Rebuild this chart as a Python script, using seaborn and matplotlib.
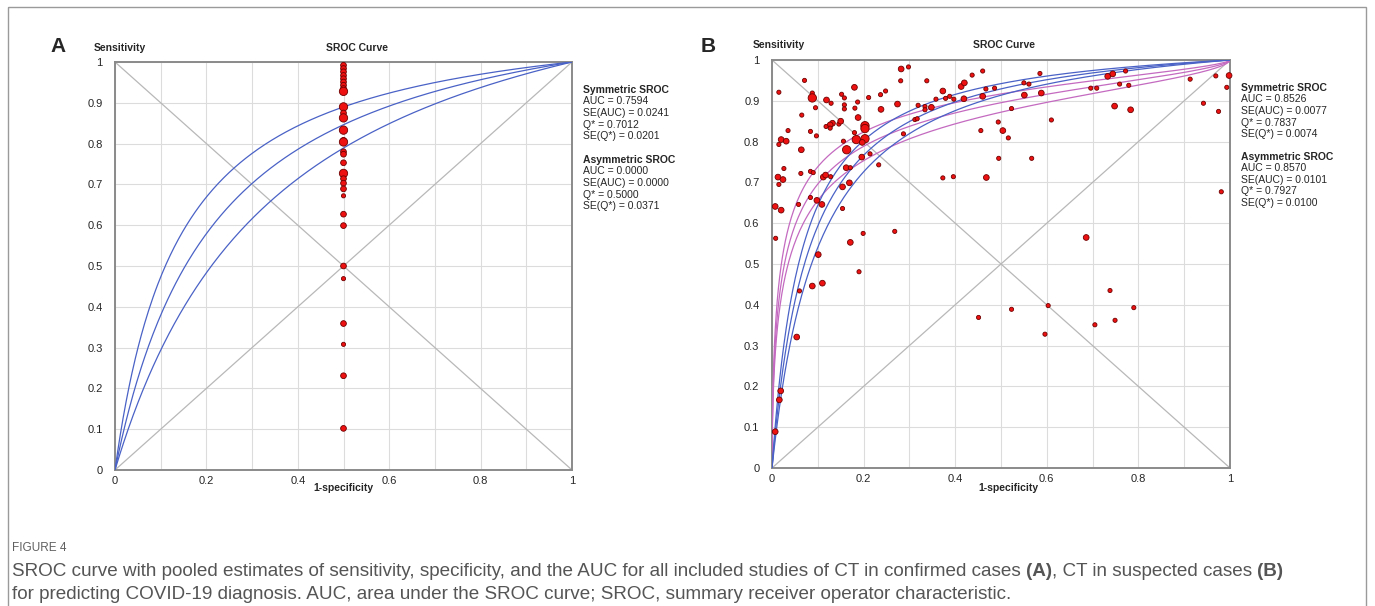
import numpy as np
import pandas as pd
import seaborn as sns
from matplotlib import pyplot as plt
from matplotlib.patches import Rectangle

# ---- panel A: CT in confirmed cases (every study sits at 1-specificity = 0.5)
a_sens = [0.992, 0.984, 0.976, 0.967, 0.959, 0.951, 0.943, 0.935, 0.928, 0.890,
          0.875, 0.863, 0.833, 0.808, 0.804, 0.780, 0.774, 0.753, 0.727, 0.714,
          0.703, 0.689, 0.672, 0.627, 0.599, 0.500, 0.469, 0.359, 0.308, 0.231,
          0.102]
a_fpr = [0.5] * len(a_sens)
a_size = [2, 2, 2, 2, 2, 2, 2, 2, 3, 3,
          2, 3, 3, 2, 3, 2, 2, 2, 3, 2,
          2, 2, 1, 2, 2, 2, 1, 2, 1, 2,
          2]

# ---- panel B: CT in suspected cases
b_fpr = [0.282, 0.298, 0.071, 0.281, 0.338, 0.015, 0.180, 0.088, 0.088, 0.119,
         0.129, 0.152, 0.158, 0.187, 0.158, 0.158, 0.181, 0.095, 0.065, 0.188,
         0.211, 0.237, 0.248, 0.274, 0.238, 0.203, 0.203, 0.132, 0.127, 0.118,
         0.127, 0.146, 0.150, 0.035, 0.084, 0.097, 0.180, 0.184, 0.203, 0.197,
         0.020, 0.031, 0.015, 0.156, 0.163, 0.064, 0.196, 0.214, 0.233, 0.162,
         0.171, 0.026, 0.013, 0.024, 0.015, 0.063, 0.084, 0.090, 0.112, 0.117,
         0.128, 0.169, 0.154, 0.084, 0.098, 0.109, 0.058, 0.007, 0.020, 0.154,
         0.008, 0.268, 0.199, 0.171, 0.101, 0.190, 0.088, 0.110, 0.060, 0.054,
         0.019, 0.016, 0.007,
         0.312, 0.317, 0.287, 0.319, 0.334, 0.334, 0.348, 0.358, 0.373, 0.379,
         0.388, 0.397, 0.413, 0.420, 0.419, 0.437, 0.460, 0.460, 0.467, 0.486,
         0.456, 0.494, 0.504, 0.516, 0.523, 0.495, 0.567, 0.373, 0.396, 0.468,
         0.550, 0.561, 0.551, 0.585, 0.588, 0.610, 0.696, 0.709, 0.733, 0.744,
         0.772, 0.759, 0.779, 0.748, 0.783, 0.913, 0.942, 0.969, 0.975, 0.993,
         0.998, 0.981, 0.686, 0.738, 0.790, 0.603, 0.523, 0.451, 0.705, 0.749,
         0.596]
b_sens = [0.978, 0.983, 0.950, 0.949, 0.949, 0.921, 0.933, 0.919, 0.907, 0.902,
          0.894, 0.916, 0.907, 0.897, 0.890, 0.880, 0.882, 0.883, 0.865, 0.859,
          0.908, 0.915, 0.924, 0.892, 0.879, 0.839, 0.832, 0.845, 0.841, 0.837,
          0.833, 0.843, 0.850, 0.827, 0.825, 0.814, 0.822, 0.805, 0.807, 0.798,
          0.805, 0.801, 0.793, 0.801, 0.780, 0.780, 0.762, 0.770, 0.743, 0.736,
          0.736, 0.734, 0.713, 0.707, 0.695, 0.722, 0.727, 0.724, 0.713, 0.718,
          0.714, 0.699, 0.689, 0.663, 0.656, 0.646, 0.646, 0.641, 0.632, 0.636,
          0.563, 0.580, 0.575, 0.553, 0.523, 0.481, 0.446, 0.453, 0.434, 0.321,
          0.189, 0.167, 0.089,
          0.854, 0.856, 0.819, 0.889, 0.886, 0.878, 0.884, 0.904, 0.924, 0.906,
          0.911, 0.904, 0.935, 0.944, 0.905, 0.963, 0.973, 0.911, 0.929, 0.931,
          0.827, 0.848, 0.827, 0.809, 0.881, 0.759, 0.759, 0.711, 0.714, 0.712,
          0.944, 0.941, 0.914, 0.967, 0.919, 0.853, 0.931, 0.931, 0.960, 0.966,
          0.973, 0.941, 0.938, 0.887, 0.878, 0.953, 0.894, 0.961, 0.874, 0.933,
          0.962, 0.677, 0.565, 0.435, 0.393, 0.398, 0.389, 0.369, 0.351, 0.362,
          0.328]
b_size = [2, 1, 1, 1, 1, 1, 2, 1, 3, 2,
          1, 1, 1, 1, 1, 1, 1, 1, 1, 2,
          1, 1, 1, 2, 2, 3, 3, 2, 2, 1,
          1, 1, 2, 1, 1, 1, 1, 3, 3, 2,
          2, 2, 1, 1, 3, 2, 2, 1, 1, 2,
          1, 1, 2, 2, 1, 1, 1, 1, 2, 2,
          1, 2, 2, 1, 2, 2, 1, 2, 2, 1,
          1, 1, 1, 2, 2, 1, 2, 2, 1, 2,
          2, 2, 2,
          1, 1, 1, 1, 1, 1, 2, 1, 2, 1,
          1, 1, 2, 2, 2, 1, 1, 2, 1, 1,
          1, 1, 2, 1, 1, 1, 1, 1, 1, 2,
          1, 1, 2, 1, 2, 1, 1, 1, 2, 2,
          1, 1, 1, 2, 2, 1, 1, 1, 1, 1,
          2, 1, 2, 1, 1, 1, 1, 1, 1, 1,
          1]

# SROC model: logit(sens) = intercept + slope * logit(1-spec), lower / fit / upper
a_sym_intercepts = [1.32, 1.706, 2.09]
b_sym_intercepts = [2.36, 2.575, 2.79]
b_asym_intercepts = [1.92, 2.147, 2.40]
b_asym_slopes = [0.58, 0.60, 0.62]

a_stats = [("Symmetric SROC", ["AUC = 0.7594", "SE(AUC) = 0.0241", "Q* = 0.7012", "SE(Q*) = 0.0201"]),
           ("Asymmetric SROC", ["AUC = 0.0000", "SE(AUC) = 0.0000", "Q* = 0.5000", "SE(Q*) = 0.0371"])]
b_stats = [("Symmetric SROC", ["AUC = 0.8526", "SE(AUC) = 0.0077", "Q* = 0.7837", "SE(Q*) = 0.0074"]),
           ("Asymmetric SROC", ["AUC = 0.8570", "SE(AUC) = 0.0101", "Q* = 0.7927", "SE(Q*) = 0.0100"])]

tick_vals = [round(v * 0.1, 1) for v in range(11)]

W, H = 1375, 606
FONT = ['Liberation Sans', 'DejaVu Sans']
BLUE = '#4a62c6'
MAGENTA = '#c46ac0'
SIZES = {1: 9, 2: 17, 3: 36}


def px(x, y):
    return x / W, 1 - y / H


def sroc(intercept, slope=1.0):
    x = np.concatenate([[0.0], np.logspace(-9, -1, 300), np.linspace(0.1, 0.9999999, 300), [1.0]])
    with np.errstate(divide='ignore'):
        lx = np.log(x / (1 - x))
    y = 1 / (1 + np.exp(-(intercept + slope * lx)))
    return pd.DataFrame({'x': x, 'y': y})


def style_axes(ax):
    ax.set_xlim(0, 1)
    ax.set_ylim(0, 1)
    ax.set_xticks(tick_vals)
    ax.set_yticks(tick_vals)
    ax.set_xticklabels([('%g' % v) if i % 2 == 0 else '' for i, v in enumerate(tick_vals)])
    ax.set_yticklabels(['%g' % v for v in tick_vals])
    ax.tick_params(length=0, labelsize=8, pad=4)
    ax.tick_params(axis='y', pad=9)
    ax.grid(True, color='#dcdcdc', lw=0.8)
    ax.set_axisbelow(True)
    for sp in ax.spines.values():
        sp.set_color('#8a8a8a')
        sp.set_linewidth(1.4)
    ax.plot([0, 1], [0, 1], color='#b8b8b8', lw=0.9, zorder=1)
    ax.plot([0, 1], [1, 0], color='#b8b8b8', lw=0.9, zorder=1)


sns.set_style('white')
plt.rcParams['font.family'] = FONT

fig = plt.figure(figsize=(W / 100, H / 100), dpi=100)
bg = fig.add_axes([0, 0, 1, 1])
bg.set_xlim(0, W)
bg.set_ylim(H, 0)
bg.axis('off')
bg.add_patch(Rectangle((8, 7), 1358, 640, fill=False, ec='#9a9a9a', lw=1.0))

axA = fig.add_axes([115 / W, (H - 470) / H, 457 / W, 408 / H])
axB = fig.add_axes([772 / W, (H - 468) / H, 458 / W, 408 / H])

# panel A
style_axes(axA)
for b in a_sym_intercepts:
    sns.lineplot(data=sroc(b), x='x', y='y', sort=False, estimator=None,
                 color=BLUE, lw=0.9, ax=axA, zorder=3)
dfA = pd.DataFrame({'fpr': a_fpr, 'sens': a_sens, 'size': a_size})
sns.scatterplot(data=dfA, x='fpr', y='sens', size='size', sizes=SIZES,
                color='#ee1111', edgecolor='#6e0000', linewidth=0.6, legend=False,
                ax=axA, zorder=5, clip_on=False)
axA.set_xlabel('')
axA.set_ylabel('')

# panel B
style_axes(axB)
for b, m in zip(b_asym_intercepts, b_asym_slopes):
    sns.lineplot(data=sroc(b, m), x='x', y='y', sort=False, estimator=None,
                 color=MAGENTA, lw=0.9, ax=axB, zorder=3)
for b in b_sym_intercepts:
    sns.lineplot(data=sroc(b), x='x', y='y', sort=False, estimator=None,
                 color=BLUE, lw=0.9, ax=axB, zorder=3)
dfB = pd.DataFrame({'fpr': b_fpr, 'sens': b_sens, 'size': b_size})
sns.scatterplot(data=dfB, x='fpr', y='sens', size='size', sizes=SIZES,
                color='#ee1111', edgecolor='#6e0000', linewidth=0.6, legend=False,
                ax=axB, zorder=5, clip_on=False)
axB.set_xlabel('')
axB.set_ylabel('')

# headings around the plots
for letter, lx, sx, tx, cx, ty in [('A', 58, 120, 357, 343, 48), ('B', 708, 779, 1004, 1008, 45)]:
    fig.text(*px(lx, 47), letter, fontsize=15, fontweight='bold', ha='center', va='center')
    fig.text(*px(sx, ty), 'Sensitivity', fontsize=7.5, fontweight='bold', ha='center', va='center')
    fig.text(*px(tx, ty), 'SROC Curve', fontsize=7.5, fontweight='bold', ha='center', va='center')
    fig.text(*px(cx, 488), '1-specificity', fontsize=7.5, fontweight='bold', ha='center', va='center')

for stats, sx, y0, ygap in [(a_stats, 583, 90, 70), (b_stats, 1241, 88, 69)]:
    for k, (head, lines) in enumerate(stats):
        yh = y0 + k * ygap
        fig.text(*px(sx, yh), head, fontsize=7.5, fontweight='bold', ha='left', va='center')
        for j, line in enumerate(lines):
            fig.text(*px(sx, yh + 11.5 * (j + 1)), line, fontsize=7.5, ha='left', va='center')

# caption
CAP = ['Liberation Sans', 'DejaVu Sans']
CAPC = '#555555'
CAPFS = 13.6
fig.text(*px(12, 548), 'FIGURE 4', fontsize=8.5, color='#606060', family=CAP, ha='left', va='center')
pieces = [("SROC curve with pooled estimates of sensitivity, specificity, and the AUC for all included "
           "studies of CT in confirmed cases ", 'normal'),
          ("(A)", 'bold'), (", CT in suspected cases ", 'normal'), ("(B)", 'bold')]
prev = bg.text(12, 580, pieces[0][0], fontsize=CAPFS, color=CAPC, family=CAP, ha='left', va='bottom')
for txt, wt in pieces[1:]:
    prev = bg.annotate(txt, xy=(1, 0), xycoords=prev, fontsize=CAPFS, color=CAPC, family=CAP,
                       fontweight=wt, ha='left', va='bottom')
bg.text(12, 603, "for predicting COVID-19 diagnosis. AUC, area under the SROC curve; SROC, summary "
        "receiver operator characteristic.", fontsize=CAPFS, color=CAPC, family=CAP,
        ha='left', va='bottom')

fig.savefig('out.png', dpi=100)
